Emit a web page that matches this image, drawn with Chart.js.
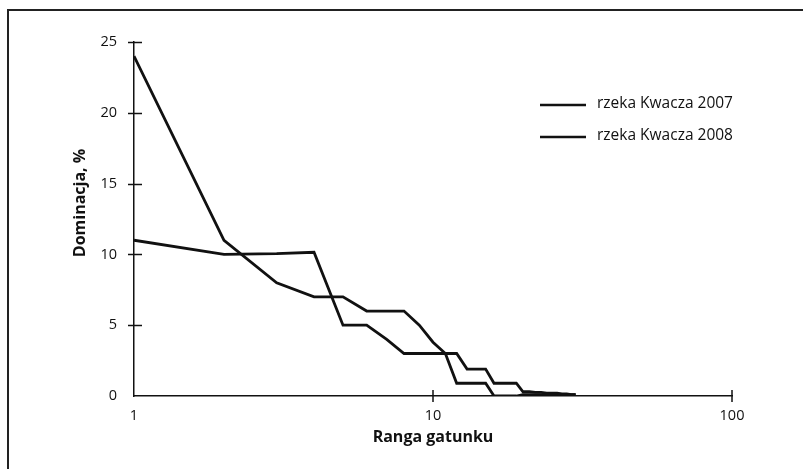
<!DOCTYPE html>
<html><head><meta charset="utf-8">
<script src="https://cdn.jsdelivr.net/npm/chart.js@4"></script>
<style>html,body{margin:0;padding:0;background:#fff}#wrap{width:803px;height:469px;position:relative}</style>
</head><body><div id="wrap"><canvas id="c" width="803" height="469"></canvas></div>
<script>
const ranks = [1,2,3,4,5,6,7,8,9,10,11,12,13,14,15,16,17,18,19,20,21,22,23,24,25,26,27,28,29,30];
const dom2007 = [24,11,8,7,7,6,6,6,5,3.8,3,0.9,0.9,0.9,0.9,0,0,0,0,0.1,0.1,0.1,0.1,0.1,0.1,0.1,0.1,0.1,0.1,0.1];
const dom2008 = [11,10,10.05,10.15,5,5,4,3,3,3,3,3,1.9,1.9,1.9,0.9,0.9,0.9,0.9,0.3,0.3,0.25,0.25,0.2,0.2,0.2,0.15,0.15,0.1,0.1];
const seriesLabels = ['rzeka Kwacza 2007','rzeka Kwacza 2008'];
const xTickValues = [1,10,100];
const yTickValues = [0,5,10,15,20,25];
const xTitle = 'Ranga gatunku';
const yTitle = 'Dominacja, %';

const FONT = "'Open Sans', 'Noto Sans', sans-serif";
const INK = '#111';

function toPoints(vals){ return ranks.map((r,i)=>({x:r,y:vals[i]})); }

const decorPlugin = {
  id:'decor',
  beforeDraw(chart){
    const ctx = chart.ctx;
    ctx.save();
    ctx.fillStyle = '#fff';
    ctx.fillRect(0,0,chart.width,chart.height);
    ctx.strokeStyle = '#222';
    ctx.lineWidth = 2;
    ctx.beginPath();
    ctx.moveTo(8, chart.height);
    ctx.lineTo(8, 10);
    ctx.lineTo(chart.width, 10);
    ctx.stroke();
    ctx.restore();
  },
  afterDraw(chart){
    const ctx = chart.ctx;
    const ca = chart.chartArea;
    const xs = chart.scales.x, ys = chart.scales.y;
    ctx.save();
    ctx.strokeStyle = INK;
    ctx.lineWidth = 1.5;
    yTickValues.forEach(v=>{
      if (v === 0) return;
      const p = Math.round(ys.getPixelForValue(v)) + 0.5;
      ctx.beginPath(); ctx.moveTo(ca.left-6,p); ctx.lineTo(ca.left+8,p); ctx.stroke();
    });
    xTickValues.forEach(v=>{
      if (v === 1) return;
      const p = Math.round(xs.getPixelForValue(v));
      ctx.beginPath(); ctx.moveTo(p,ca.bottom-6); ctx.lineTo(p,ca.bottom+6); ctx.stroke();
    });
    ctx.fillStyle = INK;
    ctx.font = "bold 16px " + FONT;
    ctx.textAlign = 'center'; ctx.textBaseline = 'middle';
    ctx.fillText(xTitle, (ca.left+ca.right)/2, ca.bottom + 41);
    ctx.save();
    ctx.translate(80, (ca.top+ca.bottom)/2 - 16);
    ctx.rotate(-Math.PI/2);
    ctx.fillText(yTitle, 0, 0);
    ctx.restore();
    ctx.font = "15.5px " + FONT;
    ctx.textAlign = 'left';
    chart.data.datasets.forEach((ds,i)=>{
      const y = ca.top + 62 + i*32;
      ctx.strokeStyle = INK; ctx.lineWidth = 2.6;
      ctx.beginPath(); ctx.moveTo(540,y+1); ctx.lineTo(586,y+1); ctx.stroke();
      ctx.fillText(ds.label, 597, y);
    });
    ctx.restore();
  }
};

new Chart(document.getElementById('c'), {
  type:'line',
  data:{
    datasets:[
      {label:seriesLabels[0], data:toPoints(dom2007), borderColor:INK, borderWidth:2.8, pointRadius:0, tension:0, fill:false},
      {label:seriesLabels[1], data:toPoints(dom2008), borderColor:INK, borderWidth:2.8, pointRadius:0, tension:0, fill:false}
    ]
  },
  options:{
    responsive:false, animation:false, devicePixelRatio:1,
    layout:{padding:{left:0, top:42, right:71, bottom:0}},
    plugins:{legend:{display:false}, tooltip:{enabled:false}},
    scales:{
      x:{
        type:'logarithmic', min:1, max:100,
        afterBuildTicks: s => { s.ticks = xTickValues.map(v=>({value:v})); },
        afterFit: s => { s.height = 73; },
        ticks:{callback: v => String(v), autoSkip:false, maxRotation:0, padding:3, color:INK, font:{family:FONT, size:14.5}},
        grid:{display:false},
        border:{display:true, color:INK, width:1.5}
      },
      y:{
        min:0, max:25,
        afterBuildTicks: s => { s.ticks = yTickValues.map(v=>({value:v})); },
        afterFit: s => { s.width = 134; },
        ticks:{padding:9, color:INK, font:{family:FONT, size:14.5}},
        grid:{display:false},
        border:{display:true, color:INK, width:1.5}
      }
    }
  },
  plugins:[decorPlugin]
});
</script>
</body></html>
